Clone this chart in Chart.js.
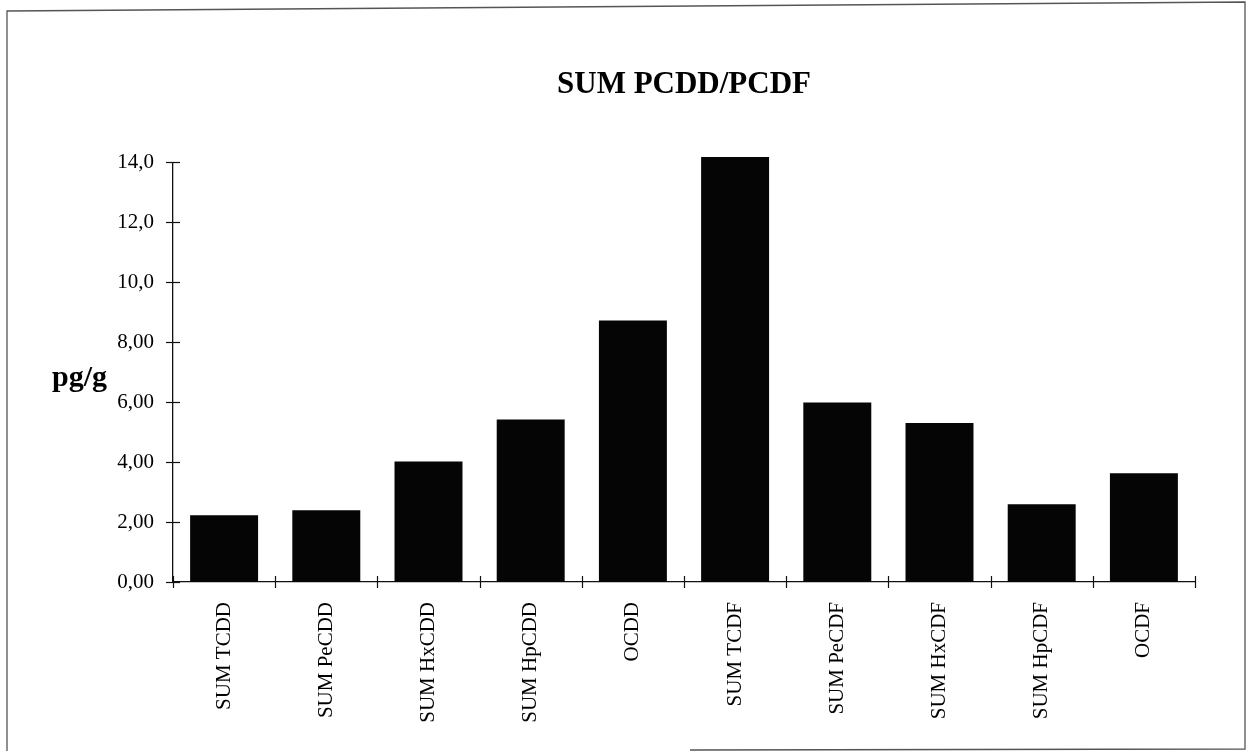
<!DOCTYPE html>
<html>
<head>
<meta charset="utf-8">
<script src="https://cdn.jsdelivr.net/npm/chart.js@4.4.1/dist/chart.umd.min.js"></script>
<style>
  html, body { margin: 0; padding: 0; background: #fff; }
  #wrap { width: 1248px; height: 751px; position: relative; }
</style>
</head>
<body>
<div id="wrap"><canvas id="c" width="1248" height="751"></canvas></div>
<script>
const categories = ['SUM TCDD', 'SUM PeCDD', 'SUM HxCDD', 'SUM HpCDD', 'OCDD',
                    'SUM TCDF', 'SUM PeCDF', 'SUM HxCDF', 'SUM HpCDF', 'OCDF'];
const values = [2.23, 2.39, 4.02, 5.42, 8.72, 14.17, 5.99, 5.30, 2.59, 3.63];
const yTickValues = [0, 2, 4, 6, 8, 10, 12, 14];
const yTickLabels = ['0,00', '2,00', '4,00', '6,00', '8,00', '10,0', '12,0', '14,0'];
const titleText = 'SUM PCDD/PCDF';
const yUnitText = 'pg/g';

const SERIF = '"Liberation Serif", "Times New Roman", serif';

const decorPlugin = {
  id: 'decor',
  beforeDraw(chart) {
    const ctx = chart.ctx;
    ctx.save();
    ctx.fillStyle = '#fff';
    ctx.fillRect(0, 0, chart.width, chart.height);
    // scanned page frame
    ctx.strokeStyle = '#555';
    ctx.lineWidth = 1.3;
    ctx.beginPath();
    ctx.moveTo(7, 760);
    ctx.lineTo(7, 11);
    ctx.lineTo(1245, 2);
    ctx.lineTo(1245, 749);
    ctx.lineTo(690, 750);
    ctx.stroke();
    ctx.restore();
  },
  afterDraw(chart) {
    const ctx = chart.ctx;
    const xs = chart.scales.x, ys = chart.scales.y;
    const area = chart.chartArea;
    ctx.save();
    ctx.strokeStyle = '#111';
    ctx.lineWidth = 1.2;
    // y cross ticks
    yTickValues.forEach(v => {
      const py = Math.round(ys.getPixelForValue(v)) + 0.5;
      ctx.beginPath();
      ctx.moveTo(area.left - 7, py);
      ctx.lineTo(area.left + 7, py);
      ctx.stroke();
    });
    // x cross ticks at category boundaries
    const w = (area.right - area.left) / categories.length;
    for (let i = 0; i <= categories.length; i++) {
      const px = Math.round(xs.getPixelForValue(0) - w / 2 + i * w) + 0.5;
      ctx.beginPath();
      ctx.moveTo(px, area.bottom - 6);
      ctx.lineTo(px, area.bottom + 6);
      ctx.stroke();
    }
    // unit label
    ctx.fillStyle = '#000';
    ctx.font = 'bold 30px ' + SERIF;
    ctx.textAlign = 'left';
    ctx.textBaseline = 'alphabetic';
    ctx.fillText(yUnitText, 52, 386);
    ctx.restore();
  }
};

new Chart(document.getElementById('c'), {
  type: 'bar',
  data: {
    labels: categories,
    datasets: [{
      data: values,
      backgroundColor: '#050505',
      borderWidth: 0,
      barPercentage: 0.665,
      categoryPercentage: 1.0,
      clip: false
    }]
  },
  options: {
    responsive: false,
    animation: false,
    devicePixelRatio: 1,
    layout: { padding: { left: 0, right: 53, top: 0, bottom: 0 } },
    plugins: {
      legend: { display: false },
      tooltip: { enabled: false },
      title: {
        display: true,
        text: titleText,
        fullSize: false,
        color: '#000',
        font: { family: SERIF, size: 31, weight: 'bold', lineHeight: 1.2 },
        padding: { top: 66, bottom: 59 }
      }
    },
    scales: {
      x: {
        grid: { display: false, drawTicks: false },
        border: { display: true, color: '#111', width: 1.3 },
        ticks: {
          color: '#000',
          font: { family: SERIF, size: 21 },
          minRotation: 90,
          maxRotation: 90,
          padding: 20,
          autoSkip: false
        },
        afterFit(scale) { scale.height = 169; }
      },
      y: {
        min: 0,
        max: 14,
        grid: { display: false, drawTicks: false },
        border: { display: true, color: '#111', width: 1.3 },
        ticks: {
          color: '#000',
          font: { family: SERIF, size: 21 },
          padding: 19,
          stepSize: 2,
          callback: (v) => {
            const i = yTickValues.indexOf(v);
            return i >= 0 ? yTickLabels[i] : '';
          }
        },
        afterFit(scale) { scale.width = 173; }
      }
    }
  },
  plugins: [decorPlugin]
});
</script>
</body>
</html>
